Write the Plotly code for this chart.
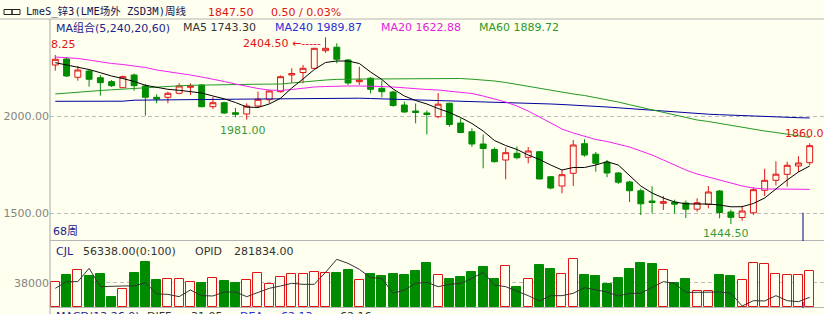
import plotly.graph_objects as go

W, H = 824, 314
BG = "#FFFFEF"
RED = "#E01414"
GREEN = "#008C00"
GRID = "#BDBDBD"
AXIS = "#A8A8A8"

# ---------------- data ----------------
bars = list(range(1, 69))
open_ = [2262.1, 2292.9, 2198.9, 2231.2, 2196.8, 2176.3, 2145.4, 2210.7, 2154.2, 2096.1,
         2096.1, 2116.6, 2147.5, 2159.3, 2047.8, 2068.3, 2017.0, 2010.3, 2051.4, 2083.8,
         2124.9, 2210.7, 2223.5, 2245.1, 2335.6, 2353.5, 2287.8, 2176.3, 2194.2, 2142.3,
         2123.3, 2056.5, 2025.7, 2015.4, 1996.4, 2065.3, 1964.0, 1919.3, 1856.1, 1827.9,
         1773.9, 1808.3, 1787.8, 1816.5, 1688.1, 1640.3, 1705.6, 1857.7, 1803.7, 1762.6,
         1707.1, 1660.9, 1615.6, 1563.2, 1551.4, 1557.0, 1552.9, 1521.1, 1545.2, 1614.6,
         1506.7, 1478.4, 1502.6, 1618.2, 1669.6, 1700.4, 1743.1, 1760.0]
high = [2313.5, 2303.2, 2256.9, 2236.4, 2210.7, 2185.0, 2208.1, 2218.4, 2164.4, 2111.5,
        2124.9, 2168.0, 2168.0, 2164.4, 2097.6, 2073.5, 2041.1, 2065.3, 2125.9, 2133.6,
        2208.1, 2245.1, 2262.1, 2349.4, 2404.5, 2373.6, 2292.9, 2253.3, 2199.4, 2181.4,
        2130.0, 2073.5, 2064.2, 2028.3, 2118.2, 2068.3, 1988.2, 1936.8, 1904.9, 1838.1,
        1838.1, 1843.3, 1840.7, 1820.1, 1691.7, 1722.5, 1876.7, 1880.3, 1815.0, 1773.9,
        1712.2, 1667.0, 1627.4, 1638.7, 1588.9, 1569.9, 1565.8, 1577.1, 1640.3, 1619.7,
        1518.4, 1538.6, 1633.6, 1728.7, 1767.2, 1765.2, 1792.9, 1860.0]
low = [2232.8, 2200.4, 2181.4, 2150.6, 2104.3, 2149.0, 2143.9, 2130.0, 2002.0, 2065.3,
       2065.3, 2111.5, 2107.9, 2044.7, 2036.0, 2010.3, 1993.3, 1981.0, 2041.1, 2064.2,
       2120.8, 2169.6, 2168.0, 2241.5, 2325.3, 2270.8, 2159.3, 2159.3, 2116.6, 2096.1,
       2047.8, 2017.0, 1962.5, 1904.9, 1988.2, 1945.0, 1914.2, 1842.2, 1731.2, 1761.1,
       1674.7, 1777.5, 1756.9, 1674.7, 1623.3, 1602.8, 1640.3, 1790.9, 1713.8, 1685.0,
       1650.6, 1558.1, 1491.3, 1500.0, 1516.9, 1500.0, 1475.9, 1508.2, 1525.7, 1474.3,
       1444.5, 1462.0, 1491.3, 1588.9, 1642.9, 1637.2, 1713.8, 1748.2]
close = [2291.4, 2205.5, 2236.4, 2188.6, 2171.1, 2155.7, 2202.0, 2155.7, 2096.1, 2087.4,
         2116.6, 2154.2, 2154.2, 2047.8, 2068.3, 2015.4, 2008.7, 2051.4, 2085.8, 2128.5,
         2202.0, 2218.4, 2245.1, 2347.9, 2347.9, 2291.4, 2169.6, 2185.0, 2137.2, 2124.9,
         2054.0, 2020.6, 2018.0, 2007.7, 2060.6, 1956.3, 1915.2, 1856.1, 1833.0, 1765.2,
         1811.4, 1785.7, 1820.1, 1676.3, 1630.0, 1698.4, 1851.0, 1799.6, 1756.9, 1707.1,
         1659.8, 1616.1, 1548.8, 1555.5, 1559.6, 1546.8, 1521.1, 1554.5, 1609.5, 1504.1,
         1479.4, 1511.8, 1621.3, 1669.6, 1700.9, 1746.7, 1758.5, 1847.5]

ma5 = [2273.9, 2262.1, 2249.2, 2238.9, 2222.5, 2205.5, 2192.7, 2177.3, 2157.8, 2147.5,
       2137.2, 2132.1, 2125.9, 2118.2, 2102.8, 2088.4, 2069.4, 2046.2, 2043.7, 2061.7,
       2091.0, 2143.9, 2190.1, 2238.9, 2274.9, 2282.6, 2282.6, 2269.8, 2226.1, 2187.6,
       2138.7, 2102.8, 2079.6, 2061.7, 2038.5, 2018.0, 1992.3, 1961.5, 1922.9, 1874.1,
       1848.4, 1827.9, 1799.6, 1776.5, 1748.2, 1722.5, 1735.4, 1735.4, 1748.2, 1765.2,
       1748.2, 1691.7, 1640.3, 1604.3, 1578.6, 1558.1, 1548.8, 1547.8, 1547.8, 1542.7,
       1533.4, 1533.9, 1550.4, 1578.6, 1624.9, 1671.1, 1712.2, 1743.3]
ma20 = [2303.2, 2300.6, 2295.5, 2287.8, 2277.5, 2269.8, 2264.6, 2256.9, 2249.2, 2236.4,
        2228.7, 2221.0, 2210.7, 2200.4, 2190.1, 2177.3, 2164.4, 2151.6, 2141.3, 2133.6,
        2131.0, 2136.2, 2143.9, 2149.0, 2151.6, 2154.2, 2154.2, 2154.2, 2154.2, 2151.6,
        2149.0, 2143.9, 2138.7, 2136.2, 2133.6, 2128.5, 2123.3, 2115.6, 2102.8, 2087.4,
        2071.9, 2051.4, 2025.7, 1994.9, 1964.0, 1933.2, 1912.6, 1897.2, 1879.2, 1869.0,
        1856.1, 1840.7, 1820.1, 1799.6, 1773.9, 1748.2, 1722.5, 1702.0, 1686.5, 1673.7,
        1658.3, 1640.3, 1630.0, 1624.9, 1624.9, 1623.3, 1623.3, 1622.88]
ma60 = [2113.1, 2118.2, 2123.3, 2128.5, 2131.0, 2134.6, 2138.7, 2142.3, 2145.9, 2149.0,
        2152.1, 2155.2, 2157.8, 2159.3, 2160.3, 2161.4, 2162.4, 2162.9, 2163.4, 2163.9,
        2164.4, 2169.6, 2175.7, 2180.9, 2185.0, 2188.1, 2190.1, 2190.1, 2190.1, 2190.1,
        2190.1, 2190.1, 2190.1, 2191.2, 2192.7, 2193.7, 2192.7, 2189.1, 2185.0, 2179.9,
        2172.1, 2161.9, 2154.2, 2143.9, 2133.6, 2120.8, 2113.1, 2105.3, 2095.1, 2084.8,
        2071.9, 2058.1, 2044.7, 2030.8, 2018.0, 2005.1, 1992.3, 1979.4, 1971.7, 1961.5,
        1951.2, 1940.9, 1930.6, 1922.9, 1915.2, 1907.5, 1899.8, 1889.72]
ma240 = [2075.5, 2075.5, 2075.5, 2075.5, 2075.5, 2075.5, 2076.1, 2081.2, 2082.2, 2082.7,
         2083.2, 2083.8, 2084.3, 2084.8, 2085.3, 2085.8, 2086.3, 2086.8, 2087.4, 2088.4,
         2089.9, 2091.0, 2091.5, 2092.0, 2092.5, 2093.0, 2092.5, 2091.5, 2089.9, 2088.4,
         2086.8, 2084.8, 2083.2, 2081.7, 2079.7, 2077.6, 2075.5, 2073.5, 2071.4, 2069.4,
         2067.8, 2066.3, 2064.7, 2063.2, 2061.7, 2059.1, 2056.5, 2054.0, 2050.4, 2046.2,
         2042.1, 2038.0, 2033.4, 2028.3, 2023.1, 2019.0, 2015.4, 2012.3, 2009.2, 2006.7,
         2004.1, 2001.0, 1999.0, 1996.9, 1994.9, 1993.3, 1991.3, 1989.87]

volume = [39600, 49400, 58100, 48900, 52000, 15400, 28800, 53500, 70500, 42700,
          44200, 43200, 39600, 37000, 45800, 41100, 37000, 41700, 53500, 35500,
          47300, 50900, 50900, 54000, 52500, 53500, 58100, 42700, 50900, 47800,
          50900, 49400, 56600, 68900, 49400, 44200, 47300, 55000, 62800, 43200,
          64300, 31900, 44200, 64800, 59700, 52000, 74600, 50400, 48900, 35500,
          45800, 59700, 68900, 67400, 58100, 38000, 44200, 25700, 25700, 50400,
          48900, 42700, 68900, 66400, 52000, 50400, 50400, 56600]
opid = [304300, 321000, 321000, 354300, 308500, 310200, 310200, 310200, 318500, 290200,
        289300, 283500, 300200, 286000, 285200, 295200, 295200, 283500, 293500, 304300,
        310200, 316800, 314300, 314300, 344300, 376800, 366800, 351800, 331000, 329300,
        291800, 300200, 316800, 319300, 308500, 314300, 316800, 329300, 344300, 312700,
        308500, 297700, 286000, 272700, 286000, 286000, 291800, 306000, 300200, 295200,
        285200, 291800, 291800, 306000, 321000, 316800, 294300, 294300, 294300, 295200,
        291800, 260200, 273500, 272700, 286000, 273500, 271000, 281834]

price_ticks = [1500, 2000]
vol_ticks = [38000]

# ---------------- helpers ----------------
def px(x):
    return x / W


def py(y):
    return 1 - y / H


up = [c >= o for o, c in zip(open_, close)]

fig = go.Figure()

fig.add_trace(go.Candlestick(
    x=bars, open=open_, high=high, low=low, close=close,
    increasing=dict(line=dict(color=RED, width=1), fillcolor=BG),
    decreasing=dict(line=dict(color=GREEN, width=1), fillcolor=GREEN),
    whiskerwidth=0, xaxis="x", yaxis="y", hoverinfo="skip"))

for vals, col in [(ma240, "#0000A0"), (ma60, "#229922"), (ma20, "#F020F0"), (ma5, "#000000")]:
    fig.add_trace(go.Scatter(x=bars, y=vals, mode="lines",
                             line=dict(color=col, width=1), xaxis="x", yaxis="y",
                             hoverinfo="skip"))

fig.add_trace(go.Bar(
    x=bars, y=volume, width=0.8,
    marker=dict(color=[BG if u else GREEN for u in up],
                line=dict(color=[RED if u else GREEN for u in up], width=1)),
    xaxis="x2", yaxis="y2", hoverinfo="skip"))

fig.add_trace(go.Scatter(x=bars, y=opid, mode="lines",
                         line=dict(color="#333333", width=1),
                         xaxis="x2", yaxis="y3", hoverinfo="skip"))

XR = [0.529, 69.27]
main_dom = [py(240), py(20)]
vol_dom = [py(307.3), py(240)]
tickfont = dict(family="DejaVu Sans", size=11, color="#848484")

fig.update_layout(
    width=W, height=H,
    margin=dict(l=0, r=0, t=0, b=0),
    paper_bgcolor=BG, plot_bgcolor=BG,
    showlegend=False, boxgap=0.25, bargap=0,
    xaxis=dict(domain=[px(50), 1], range=XR, visible=False,
               rangeslider=dict(visible=False), anchor="y"),
    xaxis2=dict(domain=[px(50), 1], range=XR, visible=False, anchor="y2",
                matches="x"),
    yaxis=dict(domain=main_dom, range=[1362.8, 2493.3], tickvals=price_ticks,
               ticktext=[f"{v:.2f}" for v in price_ticks], ticks="", ticklen=0,
               showgrid=True, gridcolor=GRID, griddash="4px,3px", gridwidth=1,
               zeroline=False, showline=False, tickfont=tickfont, anchor="x"),
    yaxis2=dict(domain=vol_dom, range=[0, 103960], tickvals=vol_ticks,
                ticktext=[str(v) for v in vol_ticks], ticks="", ticklen=0,
                showgrid=True, gridcolor=GRID, griddash="4px,3px", gridwidth=1,
                zeroline=False, showline=False, tickfont=tickfont, anchor="x2"),
    yaxis3=dict(domain=vol_dom, range=[256909, 425159], overlaying="y2",
                visible=False, anchor="x2"),
)

shapes = [
    dict(type="line", xref="paper", yref="paper", x0=0, x1=1, y0=py(19), y1=py(19),
         line=dict(color="#B4B4B4", width=1)),
    dict(type="line", xref="paper", yref="paper", x0=px(50), x1=px(50), y0=py(19), y1=0,
         line=dict(color=AXIS, width=1)),
    dict(type="line", xref="paper", yref="paper", x0=px(50), x1=1, y0=py(240.5), y1=py(240.5),
         line=dict(color="#B4B4B4", width=1)),
    dict(type="line", xref="paper", yref="paper", x0=px(50), x1=1, y0=py(307.5), y1=py(307.5),
         line=dict(color="#B4B4B4", width=1)),
    dict(type="line", xref="paper", yref="paper", x0=px(803), x1=px(803), y0=py(212.7), y1=py(241),
         line=dict(color="#000080", width=1)),
    dict(type="line", xref="paper", yref="paper", x0=px(803), x1=px(803), y0=py(302), y1=py(308),
         line=dict(color="#000080", width=1)),
    # link icon
    dict(type="rect", xref="paper", yref="paper", x0=px(4), x1=px(12), y0=py(14.5), y1=py(9.5),
         line=dict(color="#202020", width=1)),
    dict(type="rect", xref="paper", yref="paper", x0=px(12), x1=px(20), y0=py(14.5), y1=py(9.5),
         line=dict(color="#202020", width=1)),
]
fig.update_layout(shapes=shapes)

TXT = "DejaVu Sans, Noto Sans CJK SC"
ann = []


def label(x, y, text, color, size=11, family=TXT, xanchor="left"):
    ann.append(dict(x=px(x), y=py(y), xref="paper", yref="paper", text=text,
                    showarrow=False, xanchor=xanchor, yanchor="middle",
                    font=dict(family=family, size=size, color=color)))


label(24, 12, "LmeS_锌3(LME场外 ZSD3M)周线", "#141450", size=10.5,
      family="DejaVu Sans Mono, Noto Sans CJK SC")
label(206, 12.5, "1847.50", RED)
label(269, 12.5, "0.50 / 0.03%", RED)
label(54, 28, "MA组合(5,240,20,60)", "#22228C")
label(181, 28, "MA5 1743.30", "#333333")
label(273, 28, "MA240 1989.87", "#2B2BD6")
label(379, 28, "MA20 1622.88", "#E020E0")
label(477, 28, "MA60 1889.72", "#2A992A")
label(49, 45, "8.25", RED)
label(51, 232, "68周", "#22228C")
label(54, 251, "CJL", "#22228C")
label(81, 251, "56338.00(0:100)", "#333333")
label(193, 251, "OPID", "#333333")
label(232, 251, "281834.00", "#333333")
label(54, 316, "MACD(12,26,9)", "#22228C")
label(145, 316, "DIFF", "#333333")
label(185, 316, "-31.05", "#333333")
label(238, 316, "DEA", "#2B2BD6")
label(275, 316, "-62.13", "#2B2BD6")
label(338, 316, "62.16", "#333333")

# data-anchored extreme labels
i_hi = high.index(max(high))
ann.append(dict(x=bars[i_hi], y=high[i_hi], xref="x", yref="y",
                text=f"{high[i_hi]:.2f} ←-----", showarrow=False,
                xanchor="right", yanchor="middle", xshift=-3, yshift=-6,
                font=dict(family=TXT, size=11, color=RED)))
lo_first = low.index(min(low[:30]))
ann.append(dict(x=bars[lo_first], y=low[lo_first], xref="x", yref="y",
                text=f"{low[lo_first]:.2f}", showarrow=False,
                xanchor="center", yanchor="top", xshift=-4, yshift=-2,
                font=dict(family=TXT, size=11, color="#3A9A3A")))
i_lo = low.index(min(low))
ann.append(dict(x=bars[i_lo], y=low[i_lo], xref="x", yref="y",
                text=f"{low[i_lo]:.2f}", showarrow=False,
                xanchor="center", yanchor="top", xshift=-5, yshift=-1,
                font=dict(family=TXT, size=11, color="#3A9A3A")))
ann.append(dict(x=bars[-1], y=high[-1], xref="x", yref="y",
                text=f"{high[-1]:.2f}", showarrow=False,
                xanchor="left", yanchor="bottom", xshift=-27, yshift=1,
                font=dict(family=TXT, size=11, color=RED)))

fig.update_layout(annotations=ann)
fig.write_html("out.html")
